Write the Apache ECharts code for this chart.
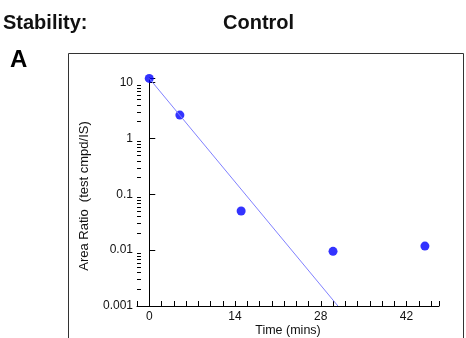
<!DOCTYPE html>
<html>
<head>
<meta charset="utf-8">
<script src="https://cdn.jsdelivr.net/npm/echarts@6/dist/echarts.min.js"></script>
<style>
  html, body { margin: 0; padding: 0; background: #fff; }
  #chart { width: 466px; height: 338px; }
</style>
</head>
<body>
<div id="chart"></div>
<script>
// Sampled time points (mins) and measured area ratios
const times = [0, 5, 15, 30, 45];
const ratios = [11.8, 2.6, 0.05, 0.0095, 0.0118];
// Fitted decay line, end points
const fitTimes = [0, 30.8];
const fitRatios = [11.8, 0.001];

const xLabels = [0, 14, 28, 42];
const yLabels = [0.001, 0.01, 0.1, 1, 10];
const yMinorMult = [2, 3, 4, 5, 6, 7, 8, 9];

const yMinor = [];
yLabels.forEach(d => yMinorMult.forEach(m => {
  const v = +(d * m).toPrecision(3);
  if (v < 12) yMinor.push(v);
}));

const font = "Liberation Sans, Arial, sans-serif";
const chart = echarts.init(document.getElementById("chart"), null, { renderer: "canvas" });

chart.setOption({
  animation: false,
  backgroundColor: "#fff",
  grid: { left: 137, top: 78, width: 302, height: 228, containLabel: false, outerBoundsMode: "none" },
  graphic: [
    { type: "text", left: 3, top: 13, style: { text: "Stability:", font: "bold 20px " + font, fill: "#111" } },
    { type: "text", left: 223, top: 13, style: { text: "Control", font: "bold 20px " + font, fill: "#111" } },
    { type: "text", left: 10, top: 48, style: { text: "A", font: "bold 24px " + font, fill: "#000" } },
    { type: "rect", shape: { x: 68.5, y: 53.5, width: 395, height: 300 }, style: { fill: null, stroke: "#333", lineWidth: 1 }, z: -1 }
  ],
  xAxis: {
    type: "value",
    min: -2,
    max: 47.3,
    interval: 2,
    name: "Time (mins)",
    nameLocation: "middle",
    nameGap: 18,
    nameMoveOverlap: false,
    nameTextStyle: { color: "#111", fontSize: 12.5, fontFamily: font },
    axisLine: { show: true, onZero: false, lineStyle: { color: "#000", width: 1 } },
    axisTick: { show: true, inside: true, length: 5, lineStyle: { color: "#000" } },
    axisLabel: { customValues: xLabels, color: "#111", fontSize: 12, fontFamily: font, margin: 5 },
    splitLine: { show: false }
  },
  yAxis: {
    type: "log",
    logBase: 10,
    min: 0.001,
    max: 12,
    name: "Area Ratio  (test cmpd/IS)",
    nameLocation: "middle",
    nameGap: 46,
    nameMoveOverlap: false,
    nameTextStyle: { color: "#111", fontSize: 13, fontFamily: font, padding: [0, 0, 0, -8] },
    axisLine: { show: true, lineStyle: { color: "#000", width: 1 } },
    axisTick: { show: true, inside: true, length: 6, lineStyle: { color: "#000" } },
    axisLabel: {
      customValues: yLabels, color: "#111", fontSize: 12, fontFamily: font, margin: 4,
      formatter: v => String(+v.toPrecision(3))
    },
    splitLine: { show: false }
  },
  series: [
    {
      // minor log ticks on the y axis
      type: "custom",
      silent: true,
      clip: false,
      data: yMinor.map(v => [-2, v]),
      renderItem: (params, api) => {
        const p = api.coord([api.value(0), api.value(1)]);
        return {
          type: "line",
          shape: { x1: p[0], y1: Math.round(p[1]) + 0.5, x2: p[0] + 4, y2: Math.round(p[1]) + 0.5 },
          style: { stroke: "#000", lineWidth: 1 }
        };
      }
    },
    {
      type: "line",
      data: fitTimes.map((t, i) => [t, fitRatios[i]]),
      showSymbol: false,
      lineStyle: { color: "#8080ff", width: 1 },
      silent: true
    },
    {
      type: "scatter",
      data: times.map((t, i) => [t, ratios[i]]),
      symbolSize: 9,
      itemStyle: { color: "#0000ff" },
      clip: false
    }
  ]
});
</script>
</body>
</html>
